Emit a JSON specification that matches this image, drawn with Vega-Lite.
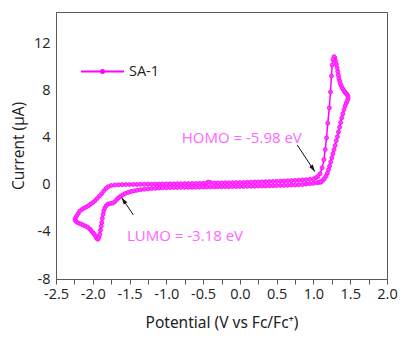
{
  "$schema": "https://vega.github.io/schema/vega-lite/v6.json",
  "width": 331,
  "height": 267,
  "autosize": "none",
  "padding": {"left": 56, "top": 12, "right": 13, "bottom": 59},
  "background": "white",
  "config": {
    "font": "Open Sans",
    "view": {"stroke": "#595959", "strokeWidth": 1},
    "axis": {"grid": false, "labelOverlap": false, "domainColor": "#595959", "tickColor": "#595959", "labelColor": "#222", "titleColor": "#222", "labelFontSize": 14.5, "titleFontSize": 15.5, "titleFontWeight": "normal"}
  },
  "resolve": {"axis": {"x": "independent"}},
  "datasets": {
    "cv": [
      {"potential": 1.10, "current": 0.25}, {"potential": 1.13, "current": 0.40}, {"potential": 1.15, "current": 0.55},
      {"potential": 1.17, "current": 0.75}, {"potential": 1.19, "current": 1.00}, {"potential": 1.205, "current": 1.30},
      {"potential": 1.22, "current": 1.60}, {"potential": 1.235, "current": 1.95}, {"potential": 1.25, "current": 2.30},
      {"potential": 1.265, "current": 2.65}, {"potential": 1.28, "current": 3.00}, {"potential": 1.295, "current": 3.35},
      {"potential": 1.31, "current": 3.75}, {"potential": 1.325, "current": 4.10}, {"potential": 1.34, "current": 4.50},
      {"potential": 1.355, "current": 4.90}, {"potential": 1.37, "current": 5.30}, {"potential": 1.385, "current": 5.70},
      {"potential": 1.40, "current": 6.05}, {"potential": 1.415, "current": 6.40}, {"potential": 1.43, "current": 6.70},
      {"potential": 1.445, "current": 6.95}, {"potential": 1.46, "current": 7.15}, {"potential": 1.47, "current": 7.35},
      {"potential": 1.468, "current": 7.55}, {"potential": 1.455, "current": 7.70}, {"potential": 1.44, "current": 7.80},
      {"potential": 1.425, "current": 7.90}, {"potential": 1.41, "current": 8.05}, {"potential": 1.395, "current": 8.20},
      {"potential": 1.38, "current": 8.40}, {"potential": 1.365, "current": 8.60}, {"potential": 1.355, "current": 8.85},
      {"potential": 1.345, "current": 9.10}, {"potential": 1.338, "current": 9.35}, {"potential": 1.33, "current": 9.65},
      {"potential": 1.322, "current": 9.95}, {"potential": 1.312, "current": 10.25}, {"potential": 1.30, "current": 10.55},
      {"potential": 1.29, "current": 10.80}, {"potential": 1.28, "current": 10.90}, {"potential": 1.265, "current": 10.65},
      {"potential": 1.255, "current": 10.20}, {"potential": 1.245, "current": 9.25}, {"potential": 1.232, "current": 7.90},
      {"potential": 1.216, "current": 6.55}, {"potential": 1.195, "current": 5.25}, {"potential": 1.178, "current": 4.00},
      {"potential": 1.16, "current": 3.00}, {"potential": 1.142, "current": 2.15}, {"potential": 1.118, "current": 1.45},
      {"potential": 1.09, "current": 0.95}, {"potential": 1.06, "current": 0.72}, {"potential": 1.03, "current": 0.60},
      {"potential": 1.00, "current": 0.50}, {"potential": 0.95, "current": 0.47}, {"potential": 0.90, "current": 0.44},
      {"potential": 0.85, "current": 0.42}, {"potential": 0.80, "current": 0.40}, {"potential": 0.75, "current": 0.38},
      {"potential": 0.70, "current": 0.36}, {"potential": 0.65, "current": 0.35}, {"potential": 0.60, "current": 0.33},
      {"potential": 0.55, "current": 0.32}, {"potential": 0.50, "current": 0.30}, {"potential": 0.45, "current": 0.29},
      {"potential": 0.40, "current": 0.28}, {"potential": 0.35, "current": 0.27}, {"potential": 0.30, "current": 0.26},
      {"potential": 0.25, "current": 0.25}, {"potential": 0.20, "current": 0.24}, {"potential": 0.15, "current": 0.23},
      {"potential": 0.10, "current": 0.22}, {"potential": 0.05, "current": 0.21}, {"potential": 0.00, "current": 0.20},
      {"potential": -0.05, "current": 0.19}, {"potential": -0.10, "current": 0.19}, {"potential": -0.15, "current": 0.18},
      {"potential": -0.20, "current": 0.18}, {"potential": -0.25, "current": 0.17}, {"potential": -0.30, "current": 0.17},
      {"potential": -0.35, "current": 0.16}, {"potential": -0.40, "current": 0.20}, {"potential": -0.43, "current": 0.24},
      {"potential": -0.46, "current": 0.14}, {"potential": -0.50, "current": 0.13}, {"potential": -0.55, "current": 0.13},
      {"potential": -0.60, "current": 0.12}, {"potential": -0.65, "current": 0.12}, {"potential": -0.70, "current": 0.11},
      {"potential": -0.75, "current": 0.11}, {"potential": -0.80, "current": 0.10}, {"potential": -0.85, "current": 0.10},
      {"potential": -0.90, "current": 0.09}, {"potential": -0.95, "current": 0.09}, {"potential": -1.00, "current": 0.08},
      {"potential": -1.05, "current": 0.08}, {"potential": -1.10, "current": 0.07}, {"potential": -1.15, "current": 0.07},
      {"potential": -1.20, "current": 0.06}, {"potential": -1.25, "current": 0.06}, {"potential": -1.30, "current": 0.05},
      {"potential": -1.35, "current": 0.05}, {"potential": -1.40, "current": 0.04}, {"potential": -1.45, "current": 0.04},
      {"potential": -1.50, "current": 0.03}, {"potential": -1.55, "current": 0.03}, {"potential": -1.60, "current": 0.02},
      {"potential": -1.65, "current": 0.01}, {"potential": -1.70, "current": 0.00}, {"potential": -1.75, "current": -0.05},
      {"potential": -1.79, "current": -0.15}, {"potential": -1.82, "current": -0.30}, {"potential": -1.85, "current": -0.50},
      {"potential": -1.88, "current": -0.75}, {"potential": -1.91, "current": -0.95}, {"potential": -1.94, "current": -1.15},
      {"potential": -1.97, "current": -1.35}, {"potential": -2.00, "current": -1.50}, {"potential": -2.03, "current": -1.65},
      {"potential": -2.06, "current": -1.78}, {"potential": -2.09, "current": -1.88}, {"potential": -2.12, "current": -1.98},
      {"potential": -2.15, "current": -2.10}, {"potential": -2.18, "current": -2.25}, {"potential": -2.20, "current": -2.45},
      {"potential": -2.22, "current": -2.65}, {"potential": -2.24, "current": -2.85}, {"potential": -2.24, "current": -3.00},
      {"potential": -2.22, "current": -3.15}, {"potential": -2.19, "current": -3.25}, {"potential": -2.16, "current": -3.33},
      {"potential": -2.13, "current": -3.42}, {"potential": -2.10, "current": -3.50}, {"potential": -2.07, "current": -3.60},
      {"potential": -2.04, "current": -3.75}, {"potential": -2.02, "current": -3.90}, {"potential": -2.00, "current": -4.05},
      {"potential": -1.98, "current": -4.20}, {"potential": -1.96, "current": -4.38}, {"potential": -1.945, "current": -4.55},
      {"potential": -1.93, "current": -4.62}, {"potential": -1.915, "current": -4.45}, {"potential": -1.905, "current": -4.20},
      {"potential": -1.895, "current": -3.85}, {"potential": -1.885, "current": -3.50}, {"potential": -1.878, "current": -3.20},
      {"potential": -1.87, "current": -2.85}, {"potential": -1.86, "current": -2.50}, {"potential": -1.85, "current": -2.20},
      {"potential": -1.835, "current": -1.95}, {"potential": -1.815, "current": -1.75}, {"potential": -1.79, "current": -1.62},
      {"potential": -1.76, "current": -1.58}, {"potential": -1.73, "current": -1.55}, {"potential": -1.70, "current": -1.42},
      {"potential": -1.675, "current": -1.25}, {"potential": -1.65, "current": -1.10}, {"potential": -1.62, "current": -0.95},
      {"potential": -1.59, "current": -0.84}, {"potential": -1.56, "current": -0.74}, {"potential": -1.52, "current": -0.64},
      {"potential": -1.48, "current": -0.57}, {"potential": -1.44, "current": -0.51}, {"potential": -1.40, "current": -0.46},
      {"potential": -1.35, "current": -0.41}, {"potential": -1.30, "current": -0.37}, {"potential": -1.25, "current": -0.34},
      {"potential": -1.20, "current": -0.31}, {"potential": -1.15, "current": -0.29}, {"potential": -1.10, "current": -0.27},
      {"potential": -1.05, "current": -0.25}, {"potential": -1.00, "current": -0.24}, {"potential": -0.95, "current": -0.23},
      {"potential": -0.90, "current": -0.22}, {"potential": -0.85, "current": -0.22}, {"potential": -0.80, "current": -0.21},
      {"potential": -0.75, "current": -0.21}, {"potential": -0.70, "current": -0.20}, {"potential": -0.65, "current": -0.20},
      {"potential": -0.60, "current": -0.19}, {"potential": -0.55, "current": -0.19}, {"potential": -0.50, "current": -0.18},
      {"potential": -0.45, "current": -0.18}, {"potential": -0.40, "current": -0.17}, {"potential": -0.35, "current": -0.17},
      {"potential": -0.30, "current": -0.16}, {"potential": -0.25, "current": -0.16}, {"potential": -0.20, "current": -0.15},
      {"potential": -0.15, "current": -0.15}, {"potential": -0.10, "current": -0.14}, {"potential": -0.05, "current": -0.14},
      {"potential": 0.00, "current": -0.13}, {"potential": 0.05, "current": -0.13}, {"potential": 0.10, "current": -0.12},
      {"potential": 0.15, "current": -0.12}, {"potential": 0.20, "current": -0.11}, {"potential": 0.25, "current": -0.10},
      {"potential": 0.30, "current": -0.10}, {"potential": 0.35, "current": -0.09}, {"potential": 0.40, "current": -0.08},
      {"potential": 0.45, "current": -0.07}, {"potential": 0.50, "current": -0.06}, {"potential": 0.55, "current": -0.05},
      {"potential": 0.60, "current": -0.04}, {"potential": 0.65, "current": -0.03}, {"potential": 0.70, "current": -0.01},
      {"potential": 0.75, "current": 0.00}, {"potential": 0.80, "current": 0.02}, {"potential": 0.85, "current": 0.04},
      {"potential": 0.90, "current": 0.07}, {"potential": 0.95, "current": 0.10}, {"potential": 1.00, "current": 0.13},
      {"potential": 1.05, "current": 0.18}, {"potential": 1.08, "current": 0.22}, {"potential": 1.10, "current": 0.25}
    ]
  },
  "layer": [
    {
      "data": {"name": "cv"},
      "mark": {"type": "line", "strokeWidth": 1.5, "clip": true,
               "point": {"filled": true, "size": 16, "fill": "#ff40ff", "stroke": "#ff00ff", "strokeWidth": 0.8}},
      "encoding": {
        "x": {"field": "potential", "type": "quantitative",
              "scale": {"domain": [-2.5, 2.0], "nice": false, "zero": false},
              "axis": {"orient": "bottom", "title": "Potential (V vs Fc/Fc⁺)", "titleFont": "Noto Sans",
                       "values": [-2.5, -2.0, -1.5, -1.0, -0.5, 0, 0.5, 1.0, 1.5, 2.0],
                       "format": ".1f", "labelExpr": "replace(datum.label, '\u2212', '-')",
                       "labelOverlap": false, "labelBound": false, "tickSize": 5, "labelPadding": 3, "titlePadding": 15, "labelFlush": false}},
        "y": {"field": "current", "type": "quantitative",
              "scale": {"domain": [-8, 14.7], "nice": false, "zero": false},
              "axis": {"title": "Current (μA)", "values": [-8, -4, 0, 4, 8, 12], "ticks": false, "labelOverlap": false,
                       "labelExpr": "replace(datum.label, '\u2212', '-')", "labelPadding": 6, "titlePadding": 7}},
        "order": {"value": null},
        "color": {"datum": "SA-1", "type": "nominal",
                  "scale": {"range": ["#ff00ff"]},
                  "legend": {"title": null, "orient": "none", "legendX": 24, "legendY": 37, "padding": 0,
                             "symbolType": "M-1,0H1M-0.07,0A0.07,0.07 0 1,0 0.07,0A0.07,0.07 0 1,0 -0.07,0Z",
                             "symbolSize": 1849, "symbolStrokeWidth": 2, "symbolFillColor": "#ff00ff",
                             "labelFontSize": 14.5, "labelColor": "#222", "labelOffset": 4}}
      }
    },
    {
      "data": {"values": [
        {"potential": -0.79, "current": 4.0, "label": "HOMO = -5.98 eV"},
        {"potential": -1.535, "current": -4.34, "label": "LUMO = -3.18 eV"}
      ]},
      "mark": {"type": "text", "align": "left", "baseline": "middle", "fontSize": 15, "color": "#ff66ff"},
      "encoding": {
        "x": {"field": "potential", "type": "quantitative",
              "axis": {"orient": "bottom", "values": [-2.25, -1.75, -1.25, -0.75, -0.25, 0.25, 0.75, 1.25, 1.75],
                       "labels": false, "domain": false, "title": null, "tickSize": 5}},
        "y": {"field": "current", "type": "quantitative"},
        "text": {"field": "label"}
      }
    },
    {
      "data": {"values": [
        {"potential": 0.779, "current": 3.4, "tipPotential": 1.019, "tipCurrent": 1.13},
        {"potential": -1.449, "current": -2.55, "tipPotential": -1.607, "tipCurrent": -1.08}
      ]},
      "mark": {"type": "rule", "color": "#111", "strokeWidth": 1},
      "encoding": {
        "x": {"field": "potential", "type": "quantitative", "axis": null},
        "y": {"field": "current", "type": "quantitative"},
        "x2": {"field": "tipPotential"},
        "y2": {"field": "tipCurrent"}
      }
    },
    {
      "data": {"values": [{"potential": 0.993, "current": 1.38}]},
      "mark": {"type": "point", "shape": "M0,-1L0.6,1L-0.6,1Z", "filled": true, "color": "#111", "size": 49, "angle": 146.4, "opacity": 1},
      "encoding": {
        "x": {"field": "potential", "type": "quantitative", "axis": null},
        "y": {"field": "current", "type": "quantitative"}
      }
    },
    {
      "data": {"values": [{"potential": -1.581, "current": -1.33}]},
      "mark": {"type": "point", "shape": "M0,-1L0.6,1L-0.6,1Z", "filled": true, "color": "#111", "size": 49, "angle": 326.1, "opacity": 1},
      "encoding": {
        "x": {"field": "potential", "type": "quantitative", "axis": null},
        "y": {"field": "current", "type": "quantitative"}
      }
    }
  ]
}
